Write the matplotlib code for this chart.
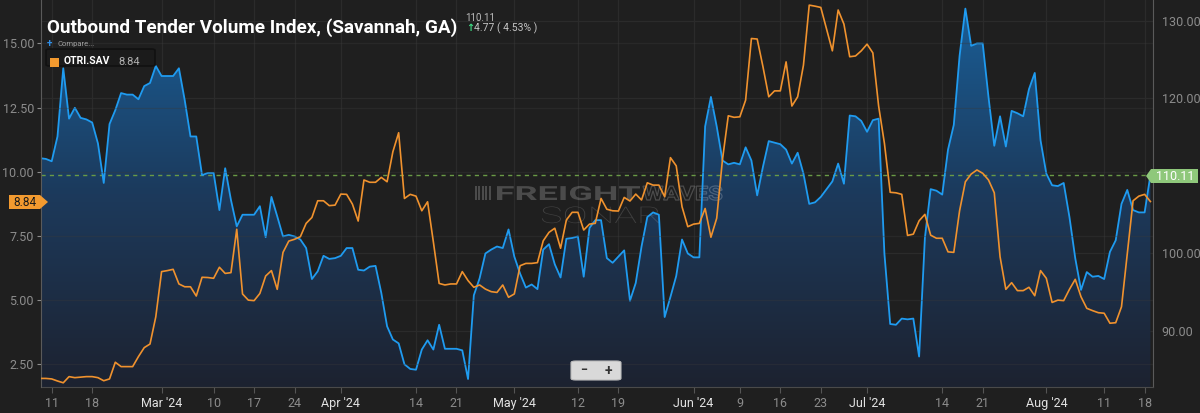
import matplotlib
matplotlib.use('Agg')
import matplotlib.pyplot as plt
import matplotlib.dates as mdates
import numpy as np
import pandas as pd
from matplotlib.patches import Polygon, FancyBboxPatch, Rectangle, PathPatch
from matplotlib.colors import LinearSegmentedColormap
from matplotlib.textpath import TextPath
from matplotlib.font_manager import FontProperties
from matplotlib.transforms import Affine2D, IdentityTransform

plt.rcParams['font.family'] = ['Roboto', 'DejaVu Sans']

# daily values, Feb 9 2024 .. Aug 19 2024
dates = pd.date_range('2024-02-09', '2024-08-19', freq='D')

# Outbound Tender Volume Index (right axis, blue)
otvi = [
    112.3, 112.2, 111.9, 115.1, 123.9, 117.4, 118.8, 117.5, 117.3, 116.9,
    114.2, 109.1, 116.7, 118.5, 120.7, 120.5, 120.5, 119.9, 121.6, 122.0,
    124.2, 122.9, 122.9, 122.9, 123.9, 119.8, 115.1, 115.1, 110.1, 110.4,
    110.4, 105.6, 111.0, 106.9, 103.5, 105.0, 105.0, 105.0, 106.1, 102.1,
    107.3, 104.8, 102.2, 102.4, 102.2, 101.8, 100.7, 96.7, 97.7, 99.7,
    99.3, 99.4, 99.7, 100.7, 100.7, 97.9, 97.8, 98.3, 98.4, 94.9,
    90.6, 88.9, 88.4, 85.7, 85.1, 85.0, 87.6, 88.8, 87.6, 90.8,
    87.7, 87.7, 87.7, 87.5, 83.8, 94.6, 96.8, 100.0, 100.5, 100.9,
    100.7, 103.1, 99.6, 97.4, 95.6, 96.0, 95.4, 100.5, 101.2, 98.6,
    96.9, 101.9, 102.0, 102.2, 97.0, 103.3, 104.3, 104.3, 99.4, 98.8,
    99.6, 100.4, 93.9, 96.2, 100.9, 104.7, 105.3, 105.0, 91.8, 94.4,
    97.1, 101.8, 100.0, 99.5, 99.5, 116.4, 120.2, 116.4, 112.0, 111.5,
    111.7, 111.5, 113.7, 112.0, 107.5, 111.2, 114.5, 114.3, 114.1, 113.4,
    111.6, 113.0, 110.3, 106.4, 106.6, 107.3, 108.3, 109.3, 111.6, 109.0,
    117.8, 117.7, 117.1, 115.7, 117.2, 117.4, 100.0, 90.9, 90.8, 91.6,
    91.5, 91.6, 86.7, 102.0, 108.3, 108.1, 107.6, 113.4, 116.6, 125.5,
    131.6, 126.8, 127.1, 127.1, 120.2, 113.9, 117.7, 113.8, 118.4, 118.1,
    117.7, 121.2, 123.3, 114.6, 110.3, 108.8, 108.7, 109.1, 104.7, 99.4,
    95.3, 97.6, 97.0, 97.1, 96.7, 100.2, 101.7, 106.4, 108.2, 105.6,
    105.3, 105.3, 110.11,
]

# Outbound Tender Reject Index OTRI.SAV (left axis, orange)
otri = [
    1.95, 1.95, 1.93, 1.85, 1.78, 2.02, 1.98, 2.00, 2.02, 2.02,
    1.98, 1.86, 1.93, 2.58, 2.41, 2.41, 2.41, 2.80, 3.15, 3.29,
    4.35, 6.11, 6.15, 6.20, 5.63, 5.52, 5.52, 5.16, 5.89, 5.88,
    5.85, 6.28, 6.04, 6.07, 7.76, 5.24, 5.00, 4.98, 5.26, 5.94,
    6.15, 5.42, 6.86, 7.30, 7.37, 7.47, 7.99, 8.22, 8.87, 8.87,
    8.68, 8.70, 9.13, 9.12, 8.74, 8.08, 9.68, 9.59, 9.59, 9.78,
    9.61, 10.78, 11.52, 8.96, 9.12, 9.05, 8.48, 8.83, 7.27, 5.65,
    5.59, 5.63, 5.63, 6.11, 5.76, 5.50, 5.59, 5.43, 5.33, 5.30,
    5.59, 5.11, 5.24, 6.34, 6.43, 6.43, 6.46, 7.31, 7.64, 7.80,
    7.02, 8.12, 8.42, 8.42, 7.73, 7.96, 7.99, 8.96, 8.54, 8.48,
    8.47, 9.00, 8.86, 9.13, 8.90, 9.57, 9.48, 9.48, 9.03, 10.55,
    10.23, 8.64, 7.86, 7.96, 7.99, 8.57, 7.45, 8.19, 10.48, 12.18,
    12.12, 12.14, 12.79, 15.19, 15.17, 14.09, 12.92, 13.15, 13.15, 14.28,
    12.56, 12.92, 14.15, 16.49, 16.45, 16.40, 15.55, 14.71, 16.30, 15.75,
    14.48, 14.51, 14.71, 14.97, 14.63, 12.56, 11.11, 9.20, 9.18, 9.12,
    7.52, 7.57, 8.09, 8.34, 7.53, 7.41, 7.41, 6.88, 6.86, 8.48,
    9.61, 9.91, 10.07, 9.94, 9.68, 9.18, 6.69, 5.42, 5.68, 5.37,
    5.37, 5.50, 5.17, 6.15, 5.85, 4.91, 5.00, 4.98, 5.42, 5.81,
    5.13, 4.68, 4.59, 4.51, 4.49, 4.10, 4.12, 4.74, 6.82, 8.87,
    9.05, 9.12, 8.84,
]

tick_dates = ['2024-02-11', '2024-02-18', '2024-03-01', '2024-03-10', '2024-03-17',
              '2024-03-24', '2024-04-01', '2024-04-14', '2024-04-21', '2024-05-01',
              '2024-05-12', '2024-05-19', '2024-06-01', '2024-06-09', '2024-06-16',
              '2024-06-23', '2024-07-01', '2024-07-14', '2024-07-21', '2024-08-01',
              '2024-08-11', '2024-08-18']
tick_labels = ['11', '18', "Mar '24", '10', '17', '24', "Apr '24", '14', '21',
               "May '24", '12', '19', "Jun '24", '9', '16', '23', "Jul '24", '14',
               '21', "Aug '24", '11', '18']

left_ticks = [2.5, 5.0, 7.5, 10.0, 12.5, 15.0]
right_ticks = [90, 100, 120, 130]

BG = '#1f1f1f'
GRID = '#2b2b2b'
BLUE = '#1f9bf0'
ORANGE = '#f0922e'
LABEL = '#8c8c8c'

W, H = 1200, 413


def px(x, y):
    # pixel position from top-left -> figure fraction
    return x / W, 1 - y / H


def stretched_text(ax, s, x_left, x_right, y_base, size, weight, face, edge, lw=0):
    # text drawn as a path and stretched horizontally to a pixel width
    tp = TextPath((0, 0), s, size=size, prop=FontProperties(family='Roboto', weight=weight))
    ext = tp.get_extents()
    sx = (x_right - x_left) / ext.width
    tr = Affine2D().translate(-ext.x0, 0).scale(sx, 1).translate(x_left, H - y_base)
    ax.add_artist(PathPatch(tr.transform_path(tp), transform=IdentityTransform(),
                            facecolor=face, edgecolor=edge, lw=lw, zorder=2))


fig = plt.figure(figsize=(12, 4.13), dpi=100, facecolor=BG)
ax = fig.add_axes([41 / W, 26 / H, (1153.3 - 41) / W, 1 - 26 / H])
ax.set_facecolor(BG)
ax2 = ax.twinx()

x = mdates.date2num(dates)
x0 = mdates.date2num(pd.Timestamp('2024-02-09')) + 0.15
x1 = mdates.date2num(pd.Timestamp('2024-08-19')) + 0.5
ylo_r, yhi_r = 82.77, 132.71
ylo_l, yhi_l = 1.616, 16.69

# blue series with gradient fill (right scale)
poly = ax.fill_between(x, otvi, ylo_r, color='none', lw=0)
path = poly.get_paths()[0]
cmap = LinearSegmentedColormap.from_list('fill', ['#1d2230', '#1c3a5c', '#1a5f98'])
grad = np.linspace(1, 0, 256).reshape(-1, 1)
im = ax.imshow(grad, extent=[x0, x1, ylo_r, yhi_r], aspect='auto', cmap=cmap,
               zorder=1, interpolation='bicubic')
im.set_clip_path(path, transform=ax.transData)
ax.plot(x, otvi, color=BLUE, lw=1.3, zorder=3)
ax.set_xlim(x0, x1)
ax.set_ylim(ylo_r, yhi_r)

# orange series (left scale)
ax2.plot(x, otri, color=ORANGE, lw=1.2, zorder=3)
ax2.set_ylim(ylo_l, yhi_l)
ax2.set_xlim(x0, x1)

# axis placement: orange on the left, blue on the right
ax.yaxis.tick_right()
ax2.yaxis.tick_left()
ax.set_yticks(right_ticks)
ax.set_yticklabels(['%.2f' % v for v in right_ticks])
ax2.set_yticks(left_ticks)
ax2.set_yticklabels(['%.2f' % v for v in left_ticks])
ax.tick_params(axis='y', colors=LABEL, labelsize=9, length=0, pad=6)
ax2.tick_params(axis='y', colors=LABEL, labelsize=9, length=3, pad=2)
for lab in ax.get_yticklabels() + ax2.get_yticklabels():
    lab.set_color(LABEL)

tpos = mdates.date2num(pd.to_datetime(tick_dates))
ax.set_xticks(tpos)
ax.set_xticklabels(tick_labels)
ax.tick_params(axis='x', colors='#555555', labelsize=9, length=4, pad=3)
for lab in ax.get_xticklabels():
    lab.set_color('#e2e2e2' if "'" in lab.get_text() else LABEL)
ax2.tick_params(axis='x', length=0)

ax.grid(True, color=GRID, lw=0.9, zorder=0)
ax.set_axisbelow(True)
for v in left_ticks:
    ax2.axhline(v, color='#3a3a3a', lw=0.9, alpha=0.35, zorder=0)

for a in (ax, ax2):
    for s in a.spines.values():
        s.set_visible(False)
ax.spines['bottom'].set_visible(True)
ax.spines['bottom'].set_color('#4a4a4a')
ax.spines['right'].set_visible(True)
ax.spines['right'].set_color('#5a5a5a')
ax2.spines['left'].set_visible(True)
ax2.spines['left'].set_color('#5a5a5a')

# last-value reference line
ax.axhline(otvi[-1], color='#6a9a46', lw=1.0, ls=(0, (3, 3)), zorder=2)

# watermark: above the fill, below the lines
wm = (1, 1, 1, 0.2)
for i in range(5):
    ax.add_artist(Rectangle(((475 + i * 3.4) / W, 1 - 200 / H), 2 / W, 14 / H,
                            transform=fig.transFigure, facecolor=wm,
                            edgecolor='none', zorder=2))
stretched_text(ax, 'FREIGHT', 497, 640, 200, 19.5, 'bold', wm, 'none')
stretched_text(ax, 'WAVES', 643, 722, 200, 19.5, 'bold', 'none', wm, lw=0.9)
stretched_text(ax, 'SONAR', 542, 659, 223, 23, 'light', (1, 1, 1, 0.15), 'none')

# title block
fig.text(*px(47, 28), 'Outbound Tender Volume Index, (Savannah, GA)', color='white',
         fontsize=13.6, fontweight='bold', va='center', ha='left', zorder=5)
fig.text(*px(465, 18), '110.11', color='#bdbdbd', fontsize=7, va='center', ha='left',
         zorder=5)
fig.text(*px(466, 28), '\u2191', color='#3ddc84', fontsize=7, va='center', ha='left',
         fontweight='bold', zorder=5)
fig.text(*px(474, 28), '4.77 ( 4.53% )', color='#c4c4c4', fontsize=7.5, va='center',
         ha='left', zorder=5)
fig.text(*px(47, 44), '+', color='#2f8fe8', fontsize=7, va='center', ha='left',
         fontweight='bold', zorder=5)
fig.text(*px(57, 44), 'Compare...', color='#a0a0a0', fontsize=5.5, va='center', ha='left',
         zorder=5)

# legend box
lx0, ly0 = px(46, 66)
lx1, ly1 = px(155, 49)
fig.patches.append(FancyBboxPatch((lx0, ly0), lx1 - lx0, ly1 - ly0,
                                  boxstyle='round,pad=0,rounding_size=0.003',
                                  transform=fig.transFigure, facecolor='#1b1b1b',
                                  edgecolor='#111111', lw=1.2, zorder=5))
sx, sy = px(50, 67)
fig.patches.append(Rectangle((sx, sy), 9 / W, 9 / H, transform=fig.transFigure,
                             facecolor='#f39a2f', edgecolor='none', zorder=6))
fig.text(*px(64, 61), 'OTRI.SAV', color='white', fontsize=7.5, fontweight='bold',
         va='center', ha='left', zorder=7)
fig.text(*px(118, 62), '8.84', color='#b0b0b0', fontsize=8, va='center', ha='left',
         zorder=7)

# value tags
lt = [px(9, 195), px(40, 195), px(48, 202), px(40, 209), px(9, 209)]
fig.patches.append(Polygon(lt, closed=True, transform=fig.transFigure,
                           facecolor='#f39a2f', edgecolor='none', zorder=6))
fig.text(*px(25, 202.5), '8.84', color='#1a1a1a', fontsize=8.5, va='center',
         ha='center', zorder=7)
rt = [px(1146, 176), px(1151, 169), px(1198, 169), px(1198, 183), px(1151, 183)]
fig.patches.append(Polygon(rt, closed=True, transform=fig.transFigure,
                           facecolor='#8fc87b', edgecolor='none', zorder=6))
fig.text(*px(1175, 176.5), '110.11', color='white', fontsize=9, va='center',
         ha='center', zorder=7)

# zoom buttons
bx0, by0 = px(571, 380)
bx1, by1 = px(621, 361)
fig.patches.append(FancyBboxPatch((bx0, by0), bx1 - bx0, by1 - by0,
                                  boxstyle='round,pad=0,rounding_size=0.004',
                                  transform=fig.transFigure, facecolor='#d9d9d9',
                                  edgecolor='#bcbcbc', lw=0.8, zorder=6))
fig.text(*px(584, 370.5), '\u2212', color='#333333', fontsize=9, va='center',
         ha='center', fontweight='bold', zorder=7)
fig.text(*px(608, 370.5), '+', color='#333333', fontsize=10, va='center',
         ha='center', fontweight='bold', zorder=7)

fig.savefig('out.png', dpi=100, facecolor=BG)
